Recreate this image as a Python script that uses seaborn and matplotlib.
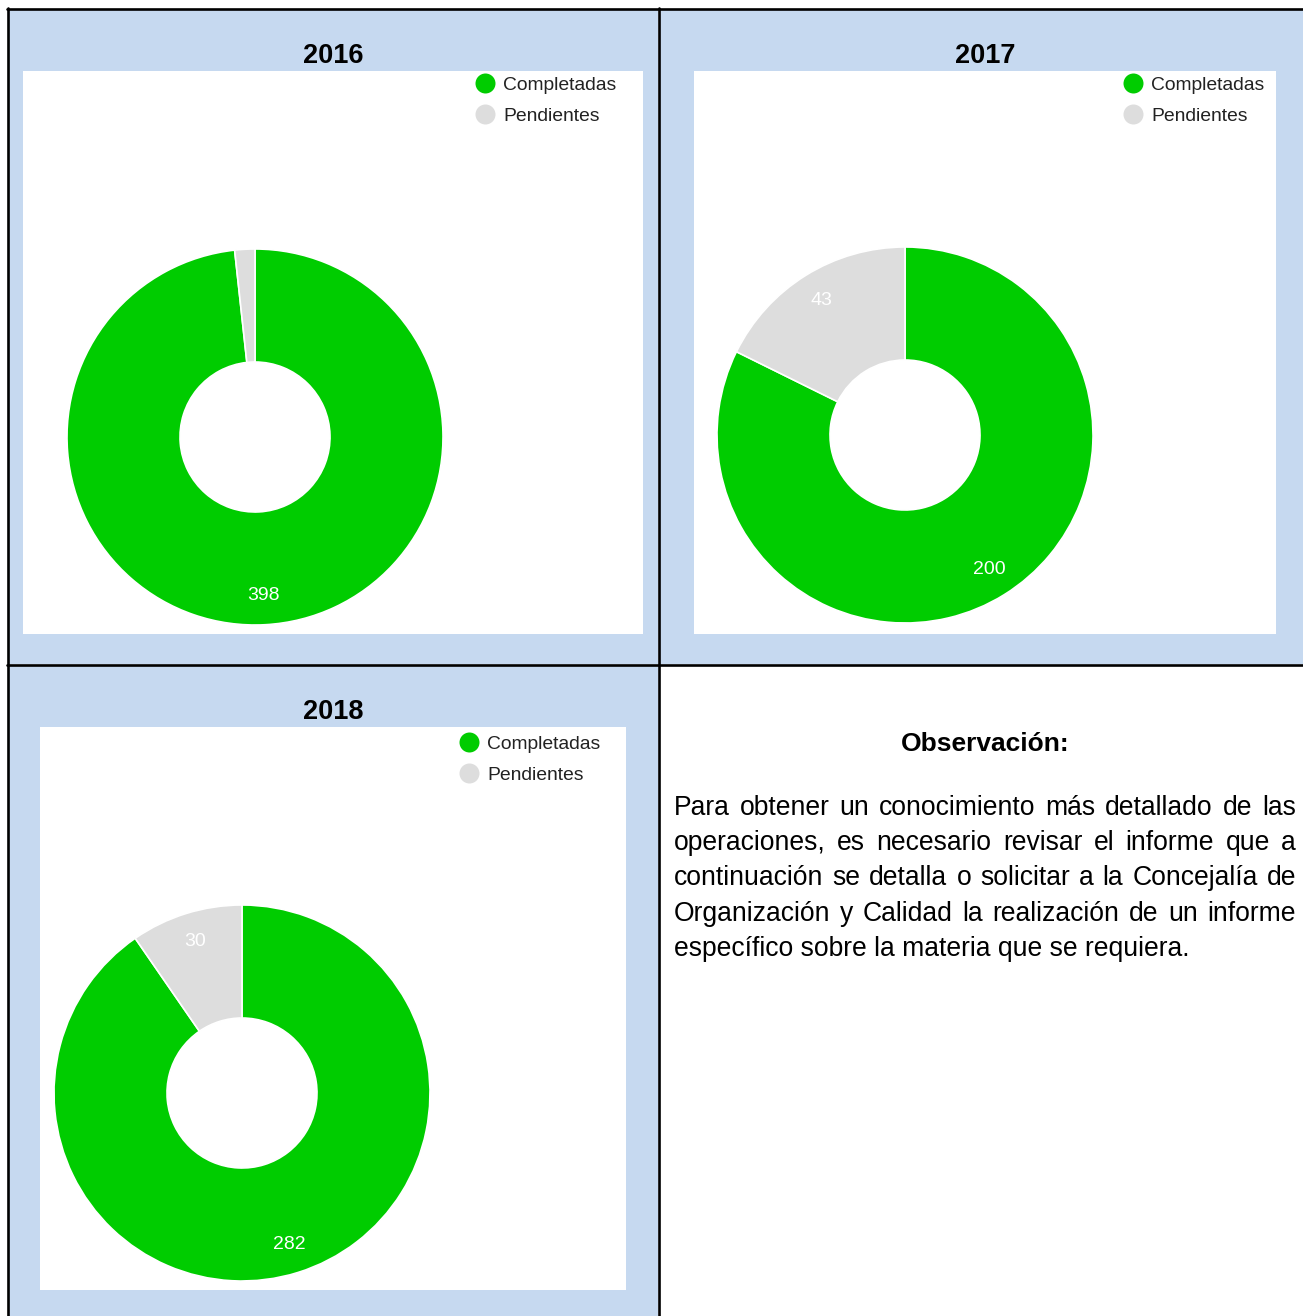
"""Three donut charts (Completadas / Pendientes per year) laid out in a 2x2 table,
with an 'Observación' text cell in the bottom right corner."""
import matplotlib
matplotlib.use("Agg")
import matplotlib.pyplot as plt
import seaborn as sns
from matplotlib.lines import Line2D
from matplotlib.patches import Rectangle

# ---- data -----------------------------------------------------------------
YEARS = ["2016", "2017", "2018"]
CATEGORIES = ["Completadas", "Pendientes"]
COMPLETADAS = [398, 200, 282]
PENDIENTES = [7, 43, 30]

OBS_TITLE = "Observación:"
OBS_LINES = [
    "Para obtener un conocimiento más detallado de las",
    "operaciones, es necesario revisar el informe que a",
    "continuación se detalla o solicitar a la Concejalía de",
    "Organización y Calidad la realización de un informe",
    "específico sobre la materia que se requiera.",
]

# ---- style ----------------------------------------------------------------
sns.set_theme(style="white")
plt.rcParams["font.family"] = ["Liberation Sans", "DejaVu Sans"]
COLORS = ["#00cc00", "#dddddd"]
BLUE = "#c6d9f0"

W, H = 1303, 1316
fig = plt.figure(figsize=(W / 100, H / 100), dpi=100)
fig.patch.set_facecolor("white")


def fx(x):
    return x / W


def fy(y):
    return 1 - y / H


def rect(x0, y0, x1, y1, color):
    fig.patches.append(Rectangle((fx(x0), fy(y1)), (x1 - x0) / W, (y1 - y0) / H,
                                 transform=fig.transFigure, facecolor=color,
                                 edgecolor="none", zorder=-2))


def hline(y, x0, x1):
    fig.add_artist(Line2D([fx(x0), fx(x1)], [fy(y), fy(y)], transform=fig.transFigure,
                          color="black", lw=1.9, zorder=5))


def vline(x, y0, y1):
    fig.add_artist(Line2D([fx(x), fx(x)], [fy(y0), fy(y1)], transform=fig.transFigure,
                          color="black", lw=1.9, zorder=5))


# panel layout in pixels: cell, white chart area, donut centre, title, legend
PANELS = [
    dict(cell=(9, 10, 658, 664), white=(23, 71, 643, 634), c=(255, 437), title=(333, 56), leg=(485, 76)),
    dict(cell=(660, 10, 1303, 664), white=(694, 71, 1276, 634), c=(905, 435), title=(985, 56), leg=(1133, 76)),
    dict(cell=(9, 666, 658, 1316), white=(40, 727, 626, 1290), c=(242, 1093), title=(333, 712), leg=(469, 735)),
]
R_OUT, R_IN = 188, 75
LEG_FS = 13.9
LEG_EM = LEG_FS * 100 / 72

for year, comp, pend, p in zip(YEARS, COMPLETADAS, PENDIENTES, PANELS):
    rect(*p["cell"], BLUE)
    rect(*p["white"], "white")
    fig.text(fx(p["title"][0]), fy(p["title"][1]), year, ha="center", va="center",
             fontsize=19.5, fontweight="bold", color="black")

    cx, cy = p["c"]
    ax = fig.add_axes([fx(cx - R_OUT), fy(cy + R_OUT), 2 * R_OUT / W, 2 * R_OUT / H])
    ax.set_zorder(3)
    ax.set_facecolor("none")
    vals = [comp, pend]
    total = sum(vals)
    wedges, _, autotexts = ax.pie(
        vals, colors=COLORS, startangle=90, counterclock=False,
        wedgeprops=dict(width=1 - R_IN / R_OUT, edgecolor="white", linewidth=1.2),
        autopct=lambda pct, t=total: f"{round(pct * t / 100)}" if pct >= 5 else "",
        pctdistance=0.845,
        textprops=dict(color="white", fontsize=14),
    )
    ax.set_xlim(-1, 1)
    ax.set_ylim(-1, 1)
    ax.axis("off")

    handles = [Line2D([], [], marker="o", linestyle="none", markersize=14.4,
                      markerfacecolor=col, markeredgewidth=0) for col in COLORS]
    lx, ly = p["leg"]
    ax.legend(handles, CATEGORIES, loc="upper left",
              bbox_to_anchor=(fx(lx - LEG_EM / 2), fy(ly)), bbox_transform=fig.transFigure,
              frameon=False, fontsize=LEG_FS, handlelength=1.0, handletextpad=0.43,
              borderpad=0, borderaxespad=0, labelspacing=0.72, labelcolor="#222222")

# table borders
hline(9, 7, W)
hline(665, 7, W)
vline(8, 8, H)
vline(659, 8, H)

# ---- Observación cell ------------------------------------------------------
fig.text(fx(985), fy(744), OBS_TITLE, ha="center", va="center", fontsize=19,
         fontweight="bold", color="black")

renderer = fig.canvas.get_renderer()


def text_width(s, fs):
    t = fig.text(0, 0, s, fontsize=fs)
    w = t.get_window_extent(renderer).width
    t.remove()
    return w


# fit the paragraph size on the last (unjustified) line
PX0, PX1 = 674, 1296
fs = 10 * 518 / text_width(OBS_LINES[-1], 10)
baselines = [815 + 35.2 * i for i in range(len(OBS_LINES))]
for i, (line, yb) in enumerate(zip(OBS_LINES, baselines)):
    if i == len(OBS_LINES) - 1:
        fig.text(fx(PX0), fy(yb), line, fontsize=fs, va="baseline", color="black")
        continue
    words = line.split(" ")
    widths = [text_width(w, fs) for w in words]
    gap = (PX1 - PX0 - sum(widths)) / (len(words) - 1)
    x = PX0
    for w, wd in zip(words, widths):
        fig.text(fx(x), fy(yb), w, fontsize=fs, va="baseline", color="black")
        x += wd + gap

fig.savefig("out.png", dpi=100)
